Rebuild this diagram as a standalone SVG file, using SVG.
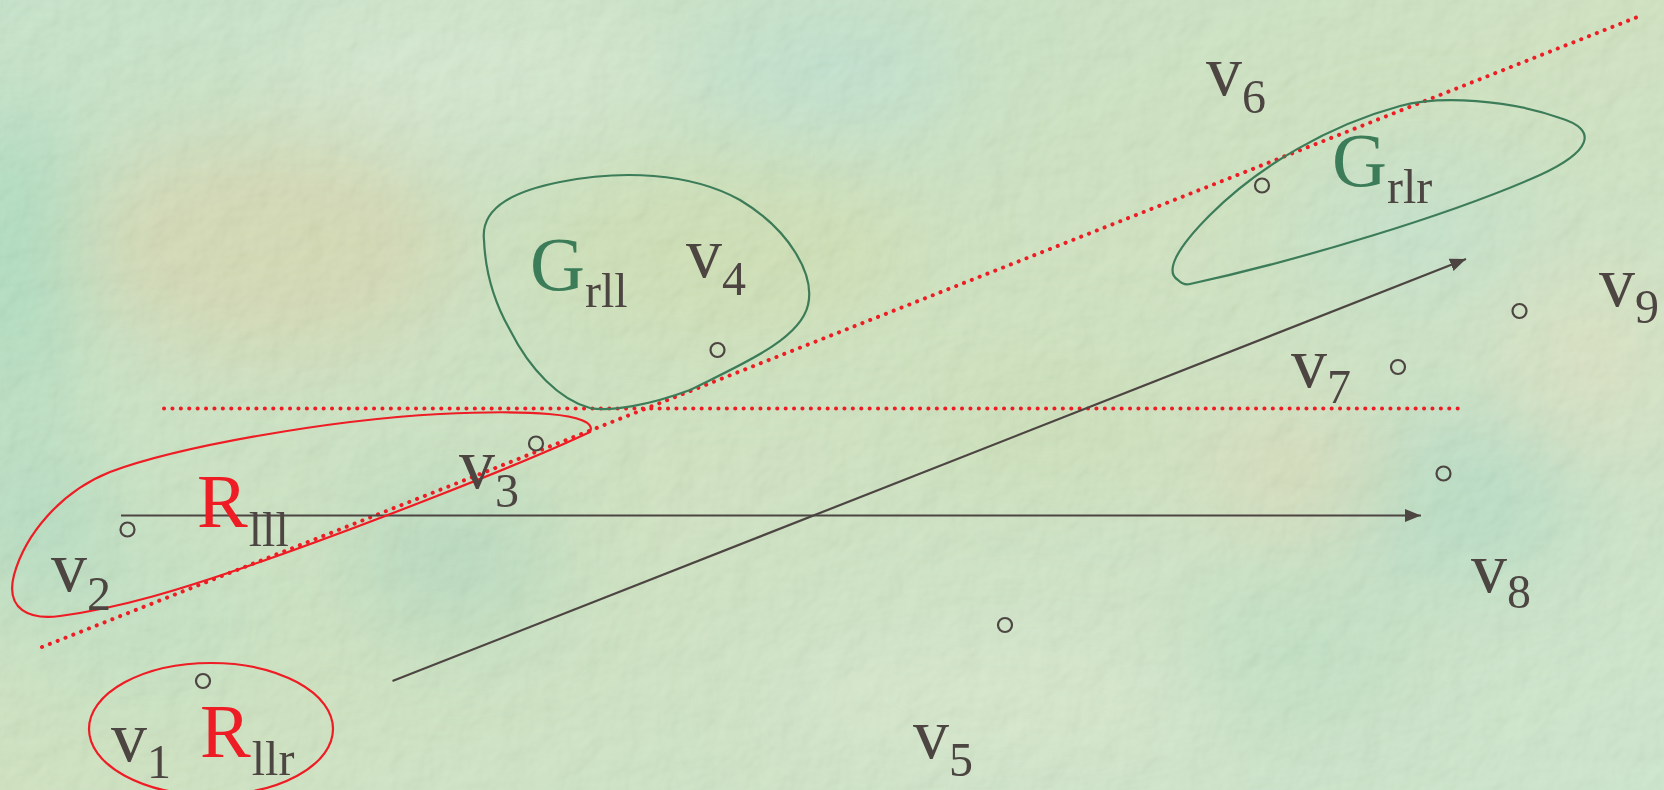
<svg xmlns="http://www.w3.org/2000/svg" width="1664" height="790" viewBox="0 0 1664 790">
<defs>
<style>
.lbl{font-family:"Liberation Serif","Times New Roman",serif;font-size:72px;fill:#4d4542}
.cap{font-size:76px}
.sub{font-size:48px;fill:#4d4542}
.red{fill:#ee1c24}
.grn{fill:#3c7c58}
.pt{fill:none;stroke:#4d4542;stroke-width:2.2}
.dot{fill:none;stroke:#ee1c24;stroke-width:4;stroke-linecap:round;stroke-dasharray:0.1 8.3}
.arr{fill:none;stroke:#4d4542;stroke-width:2.2;marker-end:url(#ah)}
.rblob{fill:none;stroke:#ee1c24;stroke-width:2.2}
.gblob{fill:none;stroke:#3c7c58;stroke-width:2.2}
</style>
<marker id="ah" markerUnits="userSpaceOnUse" markerWidth="18" markerHeight="14" refX="16" refY="6.5" orient="auto">
<path d="M0,0 L16,6.5 L0,13 Z" fill="#4d4542"/>
</marker>
<linearGradient id="bg" x1="0" y1="0" x2="1" y2="1">
<stop offset="0" stop-color="#bfe0c2"/>
<stop offset="0.5" stop-color="#c8dfb8"/>
<stop offset="1" stop-color="#c6e2c6"/>
</linearGradient>
<filter id="blur" x="-50%" y="-50%" width="200%" height="200%"><feGaussianBlur stdDeviation="45"/></filter>
<filter id="tex" x="0" y="0" width="100%" height="100%">
<feTurbulence type="fractalNoise" baseFrequency="0.035" numOctaves="3" seed="4" result="n"/>
<feDiffuseLighting in="n" surfaceScale="3" lighting-color="#ffffff" result="l"><feDistantLight azimuth="225" elevation="55"/></feDiffuseLighting>
</filter>
</defs>
<g id="background">
<rect width="1664" height="790" fill="url(#bg)"/>
<g filter="url(#blur)">
<ellipse cx="270" cy="245" rx="190" ry="110" fill="#d4cc9e" opacity="0.65"/>
<ellipse cx="10" cy="260" rx="60" ry="160" fill="#98d4b4" opacity="0.8"/>
<ellipse cx="30" cy="520" rx="80" ry="90" fill="#9fd6b8" opacity="0.7"/>
<ellipse cx="720" cy="250" rx="200" ry="90" fill="#c8d8a4" opacity="0.7"/>
<ellipse cx="830" cy="70" rx="140" ry="70" fill="#b4dccc" opacity="0.7"/>
<ellipse cx="470" cy="70" rx="200" ry="70" fill="#d4e6cc" opacity="0.7"/>
<ellipse cx="1420" cy="230" rx="120" ry="80" fill="#b8dcc8" opacity="0.6"/>
<ellipse cx="1460" cy="500" rx="120" ry="90" fill="#a6d6bc" opacity="0.7"/>
<ellipse cx="1290" cy="470" rx="100" ry="60" fill="#d6d4ac" opacity="0.7"/>
<ellipse cx="1590" cy="360" rx="90" ry="90" fill="#d8dcb8" opacity="0.7"/>
<ellipse cx="450" cy="560" rx="110" ry="80" fill="#a6d2b6" opacity="0.7"/>
<ellipse cx="1050" cy="420" rx="130" ry="60" fill="#c4d8a6" opacity="0.6"/>
<ellipse cx="1000" cy="700" rx="250" ry="80" fill="#d2e4c6" opacity="0.6"/>
<ellipse cx="1300" cy="650" rx="120" ry="80" fill="#b0d8b8" opacity="0.6"/>
<ellipse cx="150" cy="620" rx="120" ry="80" fill="#b6dcbc" opacity="0.6"/>
</g>
<rect width="1664" height="790" filter="url(#tex)" opacity="0.18"/>
</g>
<g id="connectors">
<line class="dot" x1="164" y1="408.6" x2="1463" y2="408.6"/>
<line class="dot" x1="42" y1="647" x2="1640" y2="16"/>
<line class="arr" x1="121" y1="515.5" x2="1421" y2="515.5"/>
<line class="arr" x1="392.5" y1="681" x2="1466" y2="259"/>
</g>
<g id="R_lll">
<path class="rblob" d="M590,432 C600,412 520,410 440,414 C330,420 180,446 110,472 C60,492 25,535 14,575 C5,610 30,620 60,616 C120,608 180,590 260,562 C360,527 520,465 590,432 Z"/>
<text class="lbl red" x="197" y="527"><tspan class="cap">R</tspan><tspan class="sub" dx="1" dy="19">lll</tspan></text>
</g>
<g id="R_llr">
<ellipse class="rblob" cx="211" cy="729" rx="122" ry="66"/>
<text class="lbl red" x="200" y="757"><tspan class="cap">R</tspan><tspan class="sub" dx="1" dy="18">llr</tspan></text>
</g>
<g id="G_rll">
<path class="gblob" d="M484,240 C480,205 520,190 560,182 C620,170 690,172 740,200 C790,230 815,275 808,305 C800,340 740,365 690,390 C650,405 610,412 590,408 C560,400 530,370 510,330 C490,295 485,265 484,240 Z"/>
<text class="lbl grn" x="530" y="290"><tspan class="cap">G</tspan><tspan class="sub" dx="0" dy="17">rll</tspan></text>
</g>
<g id="G_rlr">
<path class="gblob" d="M1190,284 C1300,260 1450,215 1540,175 C1590,152 1600,130 1560,118 C1510,100 1440,95 1400,106 C1330,125 1260,165 1210,215 C1175,250 1165,272 1178,280 C1182,284 1186,285 1190,284 Z"/>
<text class="lbl grn" x="1332" y="186"><tspan class="cap">G</tspan><tspan class="sub" dx="0" dy="17">rlr</tspan></text>
</g>
<g id="v1"><circle class="pt" cx="203" cy="681" r="7"/><text class="lbl" x="111" y="761">v<tspan class="sub" dy="17">1</tspan></text></g>
<g id="v2"><circle class="pt" cx="127.5" cy="529.5" r="7"/><text class="lbl" x="51" y="591">v<tspan class="sub" dy="19">2</tspan></text></g>
<g id="v3"><circle class="pt" cx="536" cy="443.5" r="7"/><text class="lbl" x="459" y="488">v<tspan class="sub" dy="19">3</tspan></text></g>
<g id="v4"><circle class="pt" cx="717.5" cy="350" r="7"/><text class="lbl" x="686" y="277">v<tspan class="sub" dy="18">4</tspan></text></g>
<g id="v5"><circle class="pt" cx="1005" cy="625" r="7"/><text class="lbl" x="913" y="758">v<tspan class="sub" dy="18">5</tspan></text></g>
<g id="v6"><circle class="pt" cx="1262" cy="185.5" r="7"/><text class="lbl" x="1206" y="95">v<tspan class="sub" dy="18">6</tspan></text></g>
<g id="v7"><circle class="pt" cx="1398" cy="367" r="7"/><text class="lbl" x="1291" y="387">v<tspan class="sub" dy="16">7</tspan></text></g>
<g id="v8"><circle class="pt" cx="1443.5" cy="473.5" r="7"/><text class="lbl" x="1471" y="592">v<tspan class="sub" dy="16">8</tspan></text></g>
<g id="v9"><circle class="pt" cx="1519.5" cy="311" r="7"/><text class="lbl" x="1599" y="306">v<tspan class="sub" dy="17">9</tspan></text></g>
</svg>
